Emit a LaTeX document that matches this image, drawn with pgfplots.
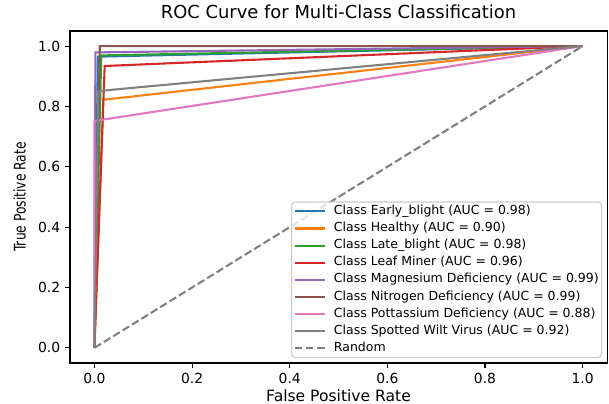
\documentclass[border=0pt]{standalone}
\usepackage{fontspec}
\setmainfont{DejaVu Sans}
\usepackage{pgfplots}
\pgfplotsset{compat=1.18}

\definecolor{tabblue}{RGB}{31,119,180}
\definecolor{taborange}{RGB}{255,127,14}
\definecolor{tabgreen}{RGB}{44,160,44}
\definecolor{tabred}{RGB}{214,39,40}
\definecolor{tabpurple}{RGB}{148,103,189}
\definecolor{tabbrown}{RGB}{140,86,75}
\definecolor{tabpink}{RGB}{227,119,194}
\definecolor{tabgray}{RGB}{127,127,127}
\definecolor{randgray}{RGB}{128,128,128}

\begin{document}
\begin{tikzpicture}
\begin{axis}[
    name=ax,
    scale only axis,
    width=386.6pt, height=239pt,
    xmin=-0.05, xmax=1.05, ymin=-0.05, ymax=1.05,
    xtick={0,0.2,0.4,0.6,0.8,1.0},
    ytick={0,0.2,0.4,0.6,0.8,1.0},
    tick pos=left,
    tick align=outside,
    major tick length=3.5pt,
    every tick/.style={black, line width=0.8pt},
    axis line style={line width=0.8pt},
    tick label style={font=\fontsize{10}{12}\selectfont},
    /pgf/number format/assume math mode=true,
    /pgf/number format/fixed,
    /pgf/number format/fixed zerofill,
    /pgf/number format/precision=1,
    title={ROC Curve for Multi-Class Classification},
    title style={at={(0.5,1)}, anchor=base, yshift=3.3pt, font=\fontsize{12.9}{15}\selectfont},
    xlabel={False Positive Rate},
    every axis x label/.style={at={(axis description cs:0.5,0)}, anchor=base, yshift=-27.4pt, font=\fontsize{11.2}{13}\selectfont},
    ylabel={\scalebox{0.77}[1]{\fontsize{11.5}{13}\selectfont True Positive Rate}},
    every axis y label/.style={at={(axis description cs:-0.0828,0.5)}, rotate=90, anchor=base},
    legend cell align=left,
    legend image code/.code={\draw[#1, line width=1.5pt] (0pt,0pt) -- (21.6pt,0pt); \path (27pt,0pt);},
    legend style={at={(0.9907,0.015)}, anchor=south east,
        font=\fontsize{9}{11}\selectfont,
        draw=black!20, line width=0.8pt, rounded corners=2.5pt,
        fill=white, fill opacity=0.8, draw opacity=1, text opacity=1,
        inner xsep=1.5pt, inner ysep=2pt, row sep=2.8pt,
        nodes={inner sep=0.5pt, text height=6.6pt, text depth=1.9pt}},
]
\addplot[tabblue, line width=1.5pt] coordinates {(0,0) (0.007,0.965) (1,1)};
\addlegendentry{Class Early\_blight (AUC = 0.98)}
\addplot[taborange, line width=1.5pt] coordinates {(0,0) (0.018,0.822) (1,1)};
\addlegendentry{Class Healthy (AUC = 0.90)}
\addplot[tabgreen, line width=1.5pt] coordinates {(0,0) (0.014,0.969) (1,1)};
\addlegendentry{Class Late\_blight (AUC = 0.98)}
\addplot[tabred, line width=1.5pt] coordinates {(0,0) (0.021,0.934) (1,1)};
\addlegendentry{Class Leaf Miner (AUC = 0.96)}
\addplot[tabpurple, line width=1.5pt] coordinates {(0,0) (0.002,0.979) (1,1)};
\addlegendentry{Class Magnesium Deficiency (AUC = 0.99)}
\addplot[tabbrown, line width=1.5pt] coordinates {(0,0) (0.011,1.0) (1,1)};
\addlegendentry{Class Nitrogen Deficiency (AUC = 0.99)}
\addplot[tabpink, line width=1.5pt] coordinates {(0,0) (0,0.752) (1,1)};
\addlegendentry{Class Pottassium Deficiency (AUC = 0.88)}
\addplot[tabgray, line width=1.5pt] coordinates {(0,0) (0.008,0.851) (1,1)};
\addlegendentry{Class Spotted Wilt Virus (AUC = 0.92)}
\addplot[randgray, line width=1.5pt, dash pattern=on 5.55pt off 2.4pt] coordinates {(0,0) (1,1)};
\addlegendentry{Random}
\end{axis}
\pgfresetboundingbox
\path ([shift={(-50.4pt,-29.5pt)}]ax.south west) rectangle ([shift={(1.4pt,22.3pt)}]ax.north east);
\end{tikzpicture}
\end{document}
